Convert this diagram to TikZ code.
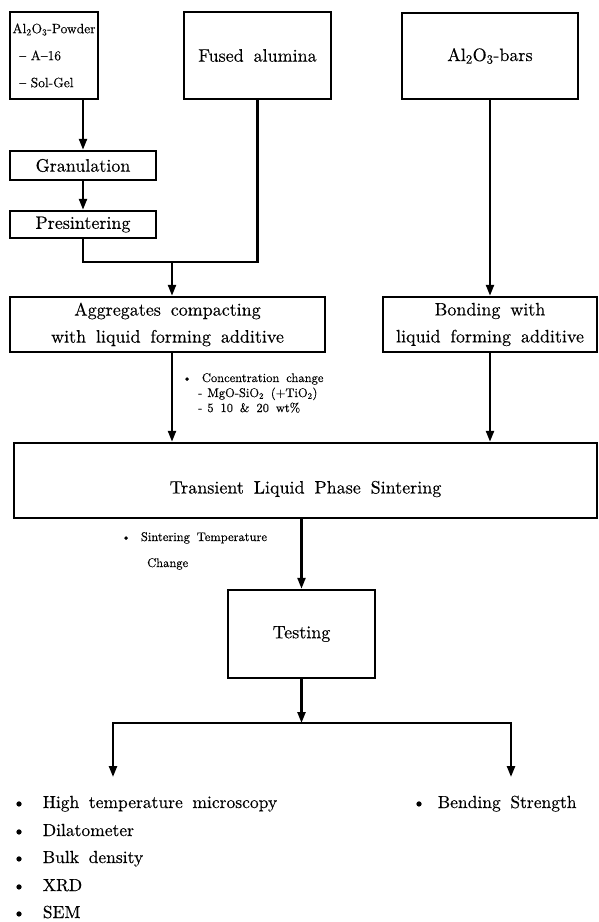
\documentclass[tikz,border=0pt]{standalone}
\usepackage{fontspec}
\setmainfont{lmroman10-regular.otf}[FakeBold=0.3]
\usetikzlibrary{arrows.meta}
\tikzset{
	box/.style={draw,line width=2.5pt,inner sep=0pt},
	big/.style={font={\fontsize{18}{27}\selectfont\spaceskip=0.55em plus 0.1em\relax}},
	small/.style={font={\fontsize{12.5}{15}\selectfont\spaceskip=0.55em plus 0.1em\relax},inner sep=0pt,anchor=base west},
	item/.style={font={\fontsize{17.5}{27}\selectfont\spaceskip=0.55em plus 0.1em\relax},inner sep=0pt,anchor=base west},
	arr/.style={line width=2.3pt,-{Triangle[length=11pt,width=8pt]}},
	ln/.style={line width=2.3pt}
}
\begin{document}
\begin{tikzpicture}[x=1pt,y=-1pt]
	\useasboundingbox (0,0) rectangle (599,922);
	% starting materials
	\node[box,minimum width=88pt,minimum height=87pt,align=left,
		font={\fontsize{13.5}{27}\selectfont}] (powder) at (54,55.5)
		{Al\textsubscript{2}O\textsubscript{3}-Powder\\\hspace*{7pt}-- A--16\\\hspace*{7pt}-- Sol-Gel};
	\node[box,big,minimum width=147pt,minimum height=87pt] (fused) at (257.5,55.5) {Fused alumina};
	\node[box,big,minimum width=176pt,minimum height=86pt] (bars) at (490,56) {Al\textsubscript{2}O\textsubscript{3}-bars};
	\node[box,big,minimum width=146pt,minimum height=29pt] (gran) at (83,165.5) {Granulation};
	\node[box,big,minimum width=146pt,minimum height=27pt] (presint) at (83,224.5) {Presintering};
	% forming
	\node[box,big,minimum width=315pt,minimum height=55pt,align=center] (agg) at (167.5,324.5)
		{Aggregates compacting\\with liquid forming additive};
	\node[box,big,minimum width=214pt,minimum height=55pt,align=center] (bond) at (490,324.5)
		{Bonding with\\liquid forming additive};
	\node[box,minimum width=583pt,minimum height=75pt] (trans) at (305.5,480.5) {};
	\node[big] (transtxt) at (305.5,489) {Transient Liquid Phase Sintering};
	\node[box,big,minimum width=147pt,minimum height=88pt] (testing) at (301.5,634) {Testing};
	% junctions
	\coordinate (jr) at (257.5,262);
	\coordinate (jm) at (172,262);
	\coordinate (split) at (301.5,723);
	\coordinate (endl) at (113,777);
	\coordinate (endr) at (511,777);
	\begin{scope}[arr]
	\draw (gran.north |- powder.south) -- (gran.north);
	\draw (gran) -- (presint);
	\draw (jm) -- (jm |- agg.north);
	\draw (bars) -- (bond);
	\draw (agg.south -| jm) -- (jm |- trans.north);
	\draw (bond) -- (bond |- trans.north);
	\draw (testing.north |- trans.south) -- (testing.north);
	\draw (testing) -- (split);
	\draw (split) -| (endl);
	\draw (split) -| (endr);
	\end{scope}
	\draw[ln] (presint.south) |- (jr) -- (fused.south);
	% notes
	\node[small] (conc1) at (182,382) {\textbullet\hspace{10pt}Concentration change};
	\node[small] (conc2) at (198,397) {-\hspace{5pt}MgO-SiO\textsubscript{2} (+TiO\textsubscript{2})};
	\node[small] (conc3) at (198,412) {-\hspace{5pt}5 10 \& 20 wt\%};
	\node[small] (sint1) at (121,541) {\textbullet\hspace{10pt}Sintering Temperature};
	\node[small] (sint2) at (147,567) {Change};
	% test methods
	\node[item] (hot) at (12,808) {\textbullet\hspace{17pt}High temperature microscopy};
	\node[item] (dil) at (12,836) {\textbullet\hspace{17pt}Dilatometer};
	\node[item] (bulk) at (12,863) {\textbullet\hspace{17pt}Bulk density};
	\node[item] (xrd) at (12,891) {\textbullet\hspace{17pt}XRD};
	\node[item] (sem) at (12,918) {\textbullet\hspace{17pt}SEM};
	\node[item] (bend) at (412,808) {\textbullet\hspace{12pt}Bending Strength};
\end{tikzpicture}
\end{document}
